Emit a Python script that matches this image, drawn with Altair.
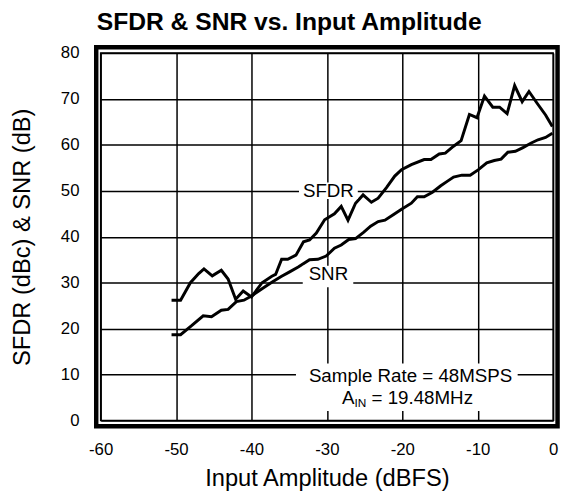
import altair as alt
import pandas as pd

# ---- data ----
sfdr_x = [-50.6, -49.4, -48.1, -47.0, -46.3, -45.2, -44.0, -43.1, -42.1, -41.1,
          -40.0, -38.6, -37.3, -36.8, -36.0, -35.2, -34.1, -33.1, -32.3, -31.4,
          -30.3, -29.0, -28.1, -27.2, -26.2, -25.2, -24.1, -23.2, -22.1, -21.0,
          -20.1, -18.8, -17.1, -16.2, -15.1, -14.3, -13.2, -12.2, -11.1, -10.1,
          -9.1, -8.0, -7.1, -6.1, -5.1, -4.1, -3.2, -2.1, -1.0, -0.1]
sfdr_y = [26.2, 26.2, 30.0, 32.0, 33.0, 31.5, 32.7, 30.8, 26.4, 28.2,
          26.9, 30.0, 31.4, 31.8, 35.1, 35.1, 36.0, 38.9, 39.3, 40.8,
          43.7, 45.0, 46.6, 43.6, 47.3, 49.1, 47.5, 48.4, 50.7, 53.2,
          54.6, 55.7, 56.8, 56.8, 58.0, 58.2, 59.7, 60.9, 66.6, 65.9,
          70.6, 68.2, 68.2, 66.8, 72.9, 69.4, 71.6, 69.0, 66.5, 64.0]

snr_x = [-50.6, -49.4, -47.9, -46.4, -45.3, -44.0, -43.1, -42.0, -41.0, -40.0,
         -38.6, -37.3, -36.0, -35.0, -33.8, -32.3, -31.2, -30.1, -29.0, -28.1,
         -27.1, -26.2, -25.1, -24.2, -23.2, -22.3, -21.2, -20.1, -18.8, -18.0,
         -17.1, -16.0, -14.9, -14.0, -13.2, -12.1, -11.0, -9.9, -8.8, -7.8,
         -6.9, -6.0, -5.0, -4.0, -2.9, -2.0, -1.0, -0.1]
snr_y = [18.7, 18.7, 20.7, 22.8, 22.6, 24.0, 24.2, 25.9, 26.2, 27.1,
         28.7, 30.1, 31.4, 32.3, 33.4, 35.0, 35.1, 35.8, 37.5, 38.2,
         39.4, 39.6, 41.0, 42.3, 43.3, 43.6, 44.8, 46.0, 47.3, 48.7,
         48.7, 49.7, 51.1, 52.1, 53.0, 53.4, 53.4, 54.6, 56.1, 56.6,
         56.9, 58.4, 58.6, 59.4, 60.4, 61.1, 61.6, 62.5]

x_ticks = [-60, -50, -40, -30, -20, -10, 0]
y_ticks = [0, 10, 20, 30, 40, 50, 60, 70, 80]

# label annotations
label_text = ["SFDR", "SNR", "Sample Rate = 48MSPS"]
label_x = [-29.8, -29.8, -18.9]
label_y = [50.0, 30.4, 9.7]

# white boxes that break the grid behind the labels
box_x1 = [-33.7, -33.2, -34.1]
box_x2 = [-25.9, -26.5, -4.7]
box_y1 = [48.2, 29.0, 2.1]
box_y2 = [51.8, 33.7, 12.4]

W, H = 459, 373
FONT = "Liberation Sans"

df = pd.concat([
    pd.DataFrame({"x": sfdr_x, "y": sfdr_y, "s": "SFDR"}),
    pd.DataFrame({"x": snr_x, "y": snr_y, "s": "SNR"}),
])
boxes = pd.DataFrame({"x1": box_x1, "x2": box_x2, "y1": box_y1, "y2": box_y2})
labels = pd.DataFrame({"t": label_text, "x": label_x, "y": label_y})

xs = alt.Scale(domain=[-60, 0], nice=False)
ys = alt.Scale(domain=[0, 80], nice=False)

xaxis = alt.Axis(values=x_ticks, grid=True, gridColor="black", gridWidth=1.5, gridOpacity=1,
                 domain=False, ticks=False, labelFont=FONT, labelFontSize=17,
                 labelExpr="'' + datum.value",
                 labelColor="black", labelPadding=21, labelFlush=False,
                 title="Input Amplitude (dBFS)", titleFont=FONT, titleFontSize=24,
                 titleFontWeight="normal", titleColor="black",
                 titleX=W / 2, titleY=66, titleBaseline="alphabetic", titleAlign="center")
yaxis = alt.Axis(values=y_ticks, grid=True, gridColor="black", gridWidth=1.5, gridOpacity=1,
                 domain=False, ticks=False, labelFont=FONT, labelFontSize=17,
                 labelExpr="'' + datum.value",
                 labelColor="black", labelPadding=22, labelFlush=False,
                 title="SFDR (dBc) & SNR (dB)", titleFont=FONT, titleFontSize=24,
                 titleFontWeight="normal", titleColor="black", titleAngle=270,
                 titleX=-79, titleY=H / 2, titleBaseline="middle", titleAlign="center")

lines = alt.Chart(df).mark_line(color="black", strokeWidth=3, strokeJoin="miter").encode(
    x=alt.X("x:Q", scale=xs, axis=xaxis),
    y=alt.Y("y:Q", scale=ys, axis=yaxis),
    detail="s:N",
)

wboxes = alt.Chart(boxes).mark_rect(color="white").encode(
    x=alt.X("x1:Q", scale=xs), x2="x2:Q",
    y=alt.Y("y1:Q", scale=ys), y2="y2:Q",
)

snr_text = alt.Chart(labels[labels.t == "SNR"]).mark_text(
    font=FONT, fontSize=19, color="black", align="center", baseline="alphabetic", dy=-1
).encode(x=alt.X("x:Q", scale=xs), y=alt.Y("y:Q", scale=ys), text="t:N")
mid_text = alt.Chart(labels[labels.t != "SNR"]).mark_text(
    font=FONT, fontSize=19, color="black", align="center", baseline="middle"
).encode(x=alt.X("x:Q", scale=xs), y=alt.Y("y:Q", scale=ys), text="t:N")

ain_df = pd.DataFrame({"x": [-28.0], "y": [4.9]})
ain_a = alt.Chart(ain_df).mark_text(font=FONT, fontSize=19, align="left", baseline="middle").encode(
    x=alt.X("x:Q", scale=xs), y=alt.Y("y:Q", scale=ys), text=alt.value("A"))
ain_sub = alt.Chart(ain_df).mark_text(font=FONT, fontSize=12, align="left", baseline="middle",
                                      dx=12.7, dy=5).encode(
    x=alt.X("x:Q", scale=xs), y=alt.Y("y:Q", scale=ys), text=alt.value("IN"))
ain_rest = alt.Chart(ain_df).mark_text(font=FONT, fontSize=19, align="left", baseline="middle",
                                       dx=30).encode(
    x=alt.X("x:Q", scale=xs), y=alt.Y("y:Q", scale=ys), text=alt.value("= 19.48MHz"))

frame = alt.Chart(pd.DataFrame({"k": [0]})).mark_rect(
    filled=False, stroke="black", strokeWidth=4.5, clip=False
).encode(x=alt.value(-4.5), x2=alt.value(W + 4.5), y=alt.value(-5.7), y2=alt.value(H + 5.7))

chart = alt.layer(lines, wboxes, mid_text, snr_text, ain_a, ain_sub, ain_rest, frame).properties(
    width=W, height=H,
    background="white",
    title=alt.TitleParams("SFDR & SNR vs. Input Amplitude", font=FONT, fontSize=25,
                          fontWeight="bold", color="black", anchor="start", frame="group",
                          dx=-4, offset=9),
    autosize=alt.AutoSizeParams(type="none"),
    padding={"left": 94, "top": 42, "right": 8, "bottom": 78},
).configure_view(stroke="black", strokeWidth=1.5)

chart.save("out.html", embed_options={"renderer": "svg", "actions": False})
